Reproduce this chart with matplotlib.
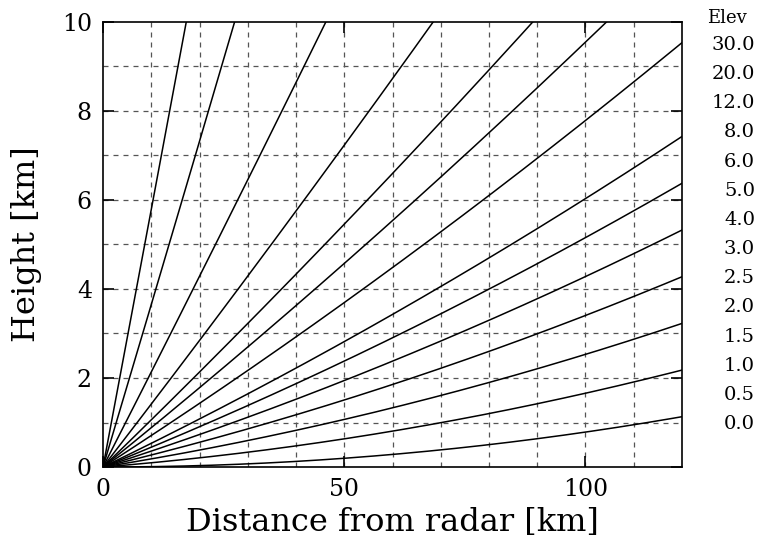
import numpy as np
import matplotlib
matplotlib.use("Agg")
import matplotlib.pyplot as plt
from matplotlib.ticker import MultipleLocator

# Elevation angles (deg) shown in the legend column
elevations = [0.0, 0.5, 1.0, 1.5, 2.0, 2.5, 3.0, 4.0, 5.0, 6.0, 8.0, 12.0, 20.0, 30.0]
elev_labels = ["30.0", "20.0", "12.0", "8.0", "6.0", "5.0", "4.0",
               "3.0", "2.5", "2.0", "1.5", "1.0", "0.5", "0.0"]

x_max = 120.0
y_max = 10.0
earth_radius = 6371.0  # km, no refraction factor

# Beam height over ground distance for each elevation
dist = np.linspace(0, x_max, 600)

fig = plt.figure(figsize=(7.62, 5.48), dpi=100)
ax = fig.add_axes([0.1352, 0.1478, 0.895 - 0.1352, 0.9599 - 0.1478])

for el in elevations:
    th = np.radians(el)
    h = earth_radius * (np.cos(th) / np.cos(th + dist / earth_radius)) - earth_radius
    ax.plot(dist, h, color="black", lw=1.1)

ax.set_xlim(0, x_max)
ax.set_ylim(0, y_max)

ax.xaxis.set_major_locator(MultipleLocator(50))
ax.yaxis.set_major_locator(MultipleLocator(2))
for v in np.arange(10, x_max, 10):
    ax.axvline(v, color="#555555", ls=(0, (4, 4)), lw=0.9, zorder=0)
for v in np.arange(1, y_max, 1):
    ax.axhline(v, color="#555555", ls=(0, (4, 4)), lw=0.9, zorder=0)

ax.tick_params(direction="in", length=8, width=1.2, top=True, right=True,
               labelsize=17, pad=8)
for lab in ax.get_xticklabels() + ax.get_yticklabels():
    lab.set_family("DejaVu Serif")
for sp in ax.spines.values():
    sp.set_linewidth(1.2)

ax.set_xlabel("Distance from radar [km]", family="DejaVu Serif", fontsize=23, labelpad=4)
ax.set_ylabel("Height [km]", family="DejaVu Serif", fontsize=23, labelpad=14)

# Legend column on the right
fig.text(707 / 762, 1 - 18 / 548, "Elev", family="DejaVu Serif", fontsize=13,
         ha="left", va="center")
for i, lab in enumerate(elev_labels):
    y_px = 45 + i * 29.15
    fig.text(755 / 762, 1 - y_px / 548, lab, family="DejaVu Serif", fontsize=14,
             ha="right", va="center")

fig.savefig("out.png", dpi=100)
